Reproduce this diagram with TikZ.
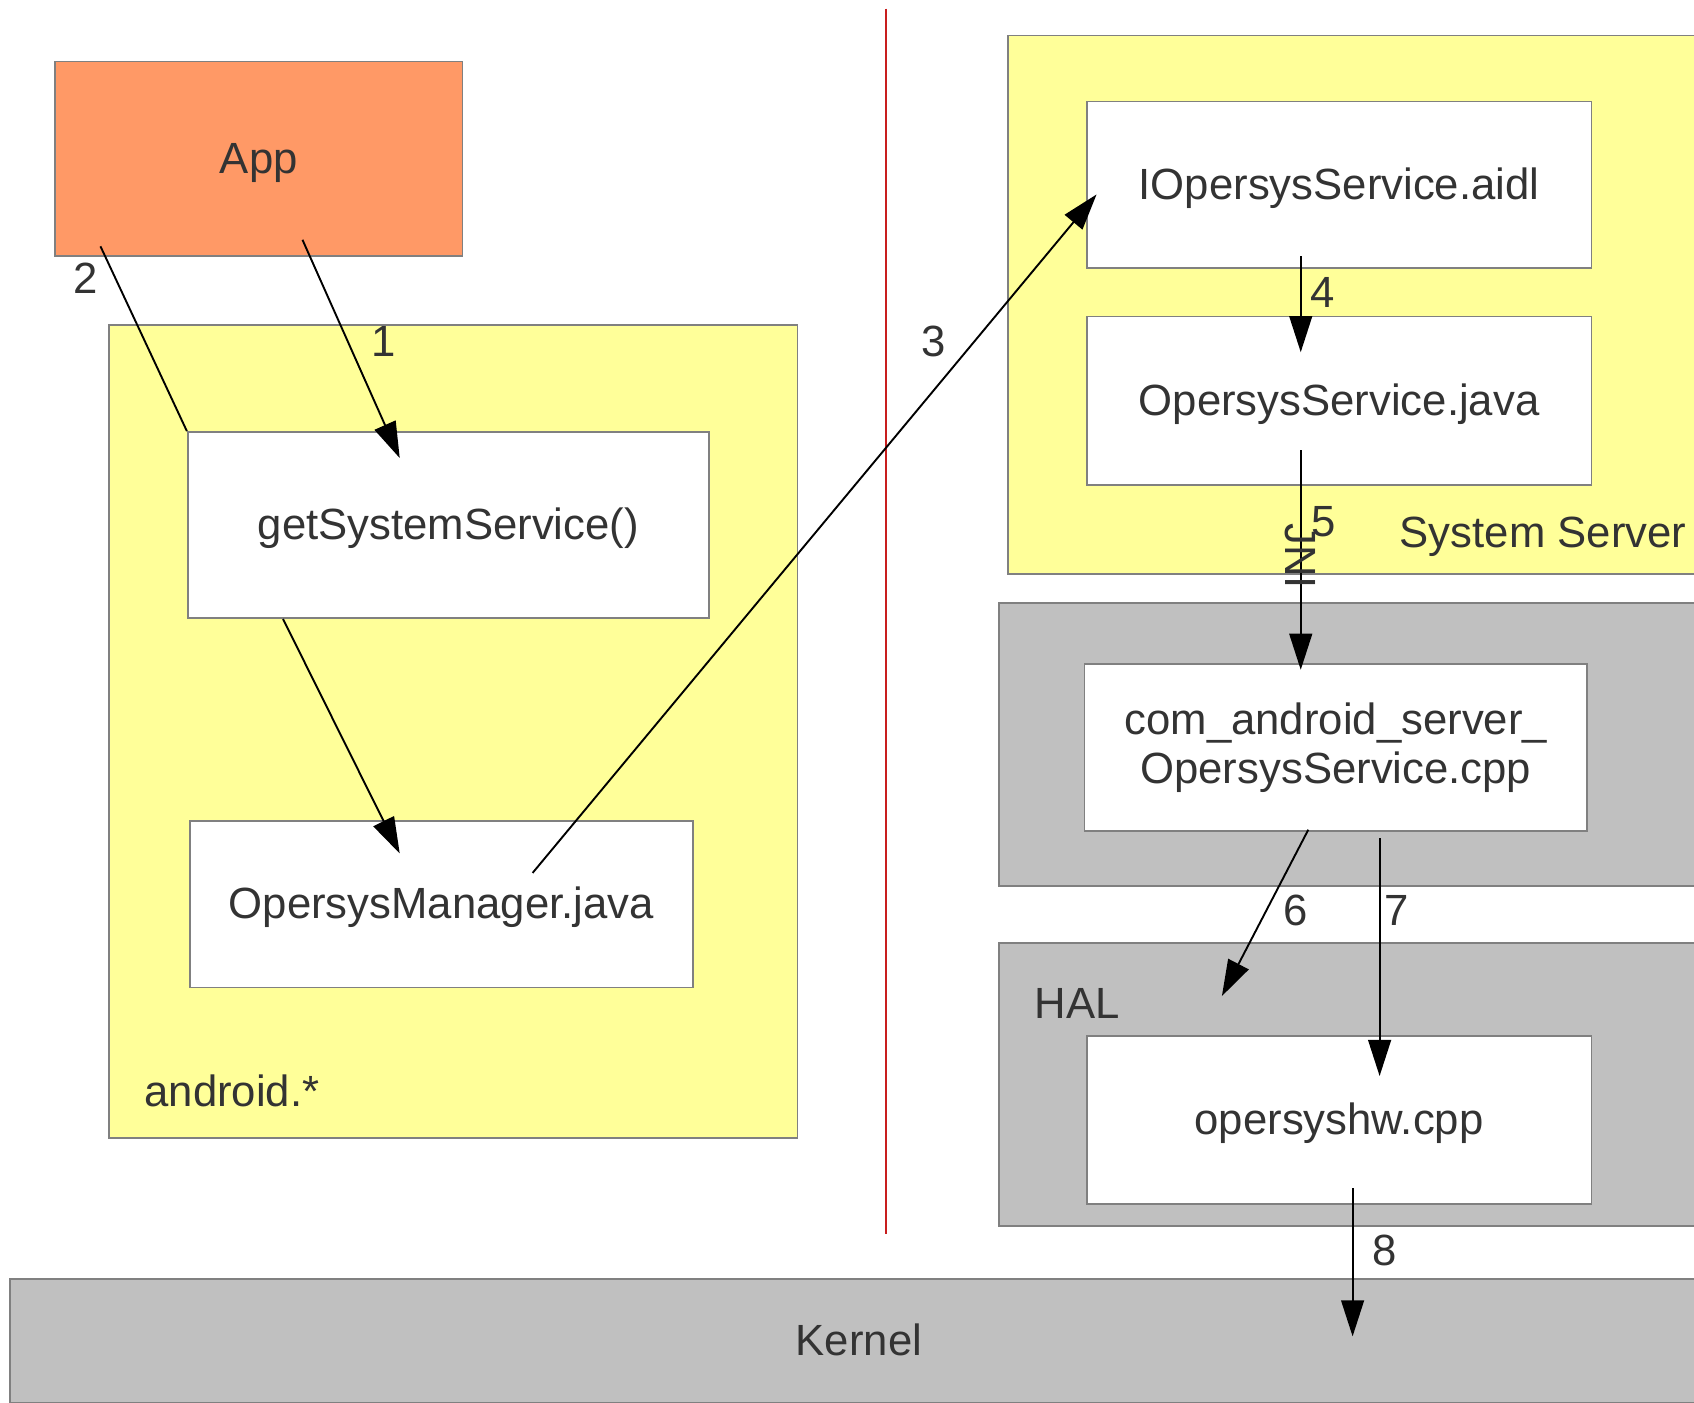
\documentclass[tikz,border=0pt]{standalone}
\usepackage{fontspec}
\setmainfont{Liberation Sans}
\usepackage{tikz}
\usetikzlibrary{positioning,arrows.meta}
\definecolor{appcol}{RGB}{255,153,102}
\definecolor{pkgcol}{RGB}{255,255,153}
\definecolor{layercol}{RGB}{192,192,192}
\definecolor{edgecol}{RGB}{128,128,128}
\definecolor{txtcol}{RGB}{51,51,51}
\definecolor{sepcol}{RGB}{200,30,30}

\begin{document}
\begin{tikzpicture}[x=0.01cm, y=-0.01cm,
	font=\fontsize{11.5}{12.8}\selectfont, text=txtcol,
	box/.style={draw=edgecol, line width=0.5pt, inner sep=0pt, fill=white},
	file/.style={box, text height=10.1pt, text depth=2.4pt},
	pkg/.style={box, fill=pkgcol},
	layer/.style={box, fill=layercol},
	tag/.style={anchor=west, inner sep=0pt},
	flow/.style={->, line width=0.5pt},
	>={Triangle[length=9.5pt,width=6pt]}]
\useasboundingbox (0,0) rectangle (1568,1298);

%%%%%%%%%%%%%%% app side %%%%%%%%%%%%%%%%
\begin{scope}
\node[pkg, minimum width=6.37cm, minimum height=7.52cm] (android) at (419.5,677) {};
\node[file, fill=appcol, minimum width=3.77cm, minimum height=1.80cm] (app) at (239.5,147) {App};
\node[file, minimum width=4.82cm, minimum height=1.72cm] (getsys) at (415,486) {getSystemService()};
\node[file, minimum width=4.65cm, minimum height=1.54cm] (mgr) at (408.5,837) {OpersysManager.java};
\node[tag] (androidlbl) at (133,1010) {android.*};
\end{scope}

%%%%%%%%%%%%%%% separator %%%%%%%%%%%%%%%%
\coordinate (septop) at (820,8);
\coordinate (sepbot) at (820,1142);
\draw[sepcol, line width=0.6pt] (septop) -- (sepbot);

%%%%%%%%%%%%%%% system side %%%%%%%%%%%%%%%%
\begin{scope}
\node[pkg, minimum width=6.67cm, minimum height=4.98cm] (sysserver) at (1266.5,282) {};
\node[file, minimum width=4.67cm, minimum height=1.54cm] (aidl) at (1239.5,171) {IOpersysService.aidl};
\node[file, minimum width=4.67cm, minimum height=1.56cm] (svc) at (1239.5,371) {OpersysService.java};
\node[tag] (syslbl) at (1295,497) {System Server};

\node[layer, minimum width=6.65cm, minimum height=2.62cm] (jni) at (1257.5,689) {};
\node[box, align=center, minimum width=4.65cm, minimum height=1.54cm] (cpp) at (1236.5,692) {com\_android\_server\_\\OpersysService.cpp};

\node[layer, minimum width=6.65cm, minimum height=2.62cm] (hal) at (1257.5,1004) {};
\node[tag] (hallbl) at (957,929) {HAL};
\node[file, minimum width=4.67cm, minimum height=1.55cm] (hw) at (1239.5,1036.5) {opersyshw.cpp};
\end{scope}

%%%%%%%%%%%%%%% kernel %%%%%%%%%%%%%%%%
\node[file, fill=layercol, minimum width=15.7cm, minimum height=1.15cm] (kernel) at (795,1241.5) {Kernel};

%%%%%%%%%%%%%%% calls %%%%%%%%%%%%%%%%
\coordinate (s1) at (280,222);   \coordinate (e1) at (370,424);
\coordinate (s2) at (93,228);
\coordinate (sg) at (262,573);   \coordinate (eg) at (370,790);
\coordinate (s3) at (493,808);   \coordinate (e3) at (1015,180);
\coordinate (s4) at (1204,237);  \coordinate (e4) at (1204,326);
\coordinate (s5) at (1204,417);  \coordinate (e5) at (1204,620);
\coordinate (s6) at (1211,768);  \coordinate (e6) at (1131,922);
\coordinate (s7) at (1277,776);  \coordinate (e7) at (1277,996);
\coordinate (s8) at (1252,1100); \coordinate (e8) at (1252,1237);

\draw[line width=0.5pt] (s2) -- (getsys.north west);
\foreach \s/\e in {s1/e1, sg/eg, s3/e3, s4/e4, s5/e5, s6/e6, s7/e7, s8/e8}
	\draw[flow] (\s) -- (\e);

\node[rotate=-90] (jnilbl) at (1204,515) {JNI};
\foreach \n/\p in {1/{(355,316)}, 2/{(79,258)}, 3/{(864,316)}, 4/{(1224,271)},
	5/{(1225,483)}, 6/{(1199,843)}, 7/{(1293,843)}, 8/{(1282,1157)}}
	\node (n\n) at \p {\n};

\end{tikzpicture}
\end{document}
